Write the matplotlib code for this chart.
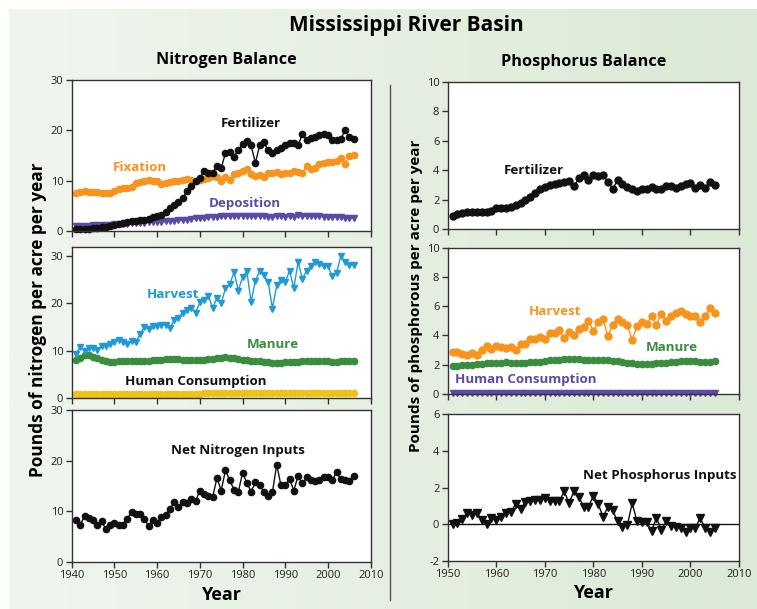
import matplotlib.pyplot as plt
import numpy as np
from matplotlib.colors import LinearSegmentedColormap

# ---- data ----
n_years = list(range(1941, 2007))
p_years = list(range(1951, 2006))

n_fertilizer = [0.3, 0.3, 0.4, 0.4, 0.5, 0.6, 0.7, 0.8, 1.0, 1.2, 1.4, 1.6, 1.8, 2.0, 2.0, 2.1, 2.2, 2.4,
                2.8, 3.0, 3.2, 3.8, 4.5, 5.2, 5.8, 6.5, 8.0, 9.0, 10.0, 10.5, 12.0, 11.5, 11.5, 13.0, 12.5,
                15.5, 15.6, 14.8, 16.0, 17.3, 17.8, 17.0, 13.5, 17.0, 17.6, 16.0, 15.5, 16.0, 16.5, 17.0,
                17.5, 17.5, 17.0, 19.3, 18.0, 18.5, 18.7, 19.0, 19.3, 19.0, 18.0, 18.0, 18.3, 20.0, 18.7, 18.3]
n_fixation = [7.5, 7.8, 7.9, 7.8, 7.8, 7.7, 7.5, 7.6, 7.5, 8.0, 8.3, 8.5, 8.6, 8.7, 9.5, 9.8, 10.0, 10.1,
              10.0, 10.0, 9.4, 9.6, 9.8, 10.0, 10.0, 10.2, 10.3, 10.1, 10.0, 10.1, 10.3, 10.5, 11.0, 10.7,
              10.0, 10.8, 10.1, 11.4, 11.5, 12.0, 12.3, 11.4, 11.0, 11.2, 10.8, 11.5, 11.6, 11.8, 11.4,
              11.6, 11.6, 12.0, 11.8, 11.5, 13.0, 12.3, 12.6, 13.3, 13.6, 13.8, 13.7, 14.0, 14.6, 13.4,
              15.0, 15.1]
n_deposition = [1.0, 1.0, 1.0, 1.0, 1.1, 1.1, 1.1, 1.2, 1.2, 1.3, 1.3, 1.4, 1.4, 1.5, 1.5, 1.6, 1.6, 1.7,
                1.7, 1.8, 1.8, 1.9, 2.0, 2.0, 2.1, 2.2, 2.2, 2.3, 2.5, 2.6, 2.6, 2.7, 2.7, 2.8, 2.9, 2.9,
                3.0, 3.0, 3.0, 3.0, 3.0, 3.0, 2.9, 3.0, 2.9, 2.8, 2.7, 2.9, 3.0, 2.8, 2.9, 2.8, 3.2, 2.9,
                2.9, 3.0, 2.9, 3.0, 2.8, 2.8, 2.7, 2.7, 2.7, 2.6, 2.6, 2.5]

n_harvest = [9.4, 10.8, 10.0, 10.5, 10.6, 10.2, 11.0, 11.0, 11.4, 11.8, 12.2, 11.8, 11.4, 12.0, 11.8,
             13.5, 15.0, 14.6, 15.2, 15.2, 15.4, 15.4, 14.7, 16.5, 17.0, 18.0, 18.5, 19.0, 18.0, 20.2,
             20.6, 21.6, 19.0, 21.2, 20.0, 23.2, 24.0, 26.6, 22.7, 25.5, 26.8, 20.3, 24.8, 26.8, 25.9,
             24.5, 18.9, 23.8, 25.0, 24.5, 26.9, 23.2, 28.7, 25.2, 26.9, 27.9, 28.8, 28.3, 27.8, 27.8,
             25.7, 26.4, 30.0, 28.8, 28.1, 28.1]
n_manure = [8.0, 8.5, 9.0, 9.0, 8.7, 8.5, 8.1, 7.8, 7.7, 7.7, 7.8, 7.9, 7.9, 7.9, 7.9, 7.9, 7.8, 7.9,
            8.0, 8.1, 8.1, 8.2, 8.2, 8.2, 8.2, 8.1, 8.0, 8.0, 8.0, 8.0, 8.1, 8.2, 8.3, 8.4, 8.5, 8.6,
            8.5, 8.4, 8.2, 8.0, 8.0, 7.9, 7.9, 7.8, 7.7, 7.6, 7.4, 7.4, 7.4, 7.5, 7.6, 7.7, 7.7, 7.8,
            7.8, 7.9, 7.9, 7.8, 7.8, 7.8, 7.7, 7.7, 7.8, 7.8, 7.9, 7.9]
n_human = [0.8, 0.8, 0.8, 0.8, 0.8, 0.8, 0.8, 0.8, 0.8, 0.8, 0.8, 0.8, 0.8, 0.8, 0.9, 0.9, 0.9, 0.9,
           0.9, 0.9, 0.9, 0.9, 0.9, 0.9, 0.9, 0.9, 0.9, 0.9, 0.9, 0.9, 1.0, 1.0, 1.0, 1.0, 1.0, 1.0,
           1.0, 1.0, 1.0, 1.0, 1.0, 1.0, 1.0, 1.0, 1.0, 1.0, 1.0, 1.0, 1.0, 1.0, 1.0, 1.1, 1.1, 1.1,
           1.1, 1.1, 1.1, 1.1, 1.1, 1.1, 1.1, 1.1, 1.1, 1.1, 1.1, 1.1]

n_net = [8.2, 7.4, 9.0, 8.6, 8.2, 7.4, 8.0, 6.5, 7.3, 7.6, 7.4, 7.4, 8.5, 9.9, 9.5, 9.5, 8.4, 7.2,
         8.2, 7.7, 8.8, 9.3, 10.5, 11.8, 10.9, 11.8, 11.6, 12.5, 12.0, 14.1, 13.4, 13.1, 12.8, 16.6,
         14.1, 18.1, 16.1, 14.3, 13.8, 17.6, 15.6, 13.9, 15.7, 15.1, 13.9, 13.1, 13.8, 19.2, 15.1,
         15.1, 16.4, 14.1, 17.0, 15.5, 16.7, 16.2, 15.9, 16.2, 16.8, 16.8, 16.2, 17.7, 16.4, 16.2,
         15.9, 16.9]

p_fertilizer = [0.9, 1.0, 1.1, 1.15, 1.15, 1.15, 1.15, 1.15, 1.2, 1.45, 1.4, 1.45, 1.5, 1.6, 1.8,
                2.0, 2.2, 2.45, 2.75, 2.85, 3.0, 3.05, 3.15, 3.2, 3.25, 2.9, 3.45, 3.7, 3.3, 3.7, 3.6,
                3.65, 3.2, 2.75, 3.3, 3.05, 2.85, 2.7, 2.6, 2.7, 2.7, 2.85, 2.75, 2.75, 2.9, 2.9, 2.8,
                2.95, 3.05, 3.1, 2.8, 3.0, 2.8, 3.2, 3.0]
p_harvest = [2.85, 2.9, 2.7, 2.65, 2.8, 2.65, 3.0, 3.3, 3.1, 3.25, 3.2, 3.15, 3.2, 3.0, 3.4, 3.45,
             3.75, 3.75, 3.9, 3.75, 4.15, 4.2, 4.35, 3.85, 4.25, 4.0, 4.45, 4.6, 5.0, 4.3, 4.9, 5.1,
             3.95, 4.75, 5.1, 4.95, 4.7, 3.7, 4.65, 4.9, 4.8, 5.3, 4.7, 5.5, 5.0, 5.35, 5.55, 5.65,
             5.5, 5.35, 5.35, 4.95, 5.3, 5.85, 5.55]
p_manure = [1.9, 1.9, 1.95, 2.0, 2.0, 2.05, 2.05, 2.1, 2.1, 2.1, 2.15, 2.2, 2.15, 2.1, 2.15, 2.15,
            2.2, 2.2, 2.2, 2.25, 2.3, 2.3, 2.35, 2.4, 2.4, 2.4, 2.4, 2.35, 2.3, 2.3, 2.3, 2.3, 2.3,
            2.25, 2.25, 2.2, 2.15, 2.1, 2.05, 2.05, 2.05, 2.05, 2.1, 2.1, 2.15, 2.2, 2.2, 2.25, 2.25,
            2.25, 2.25, 2.2, 2.2, 2.2, 2.25]
p_human = [0.05] * 55
p_net = [0.0, 0.05, 0.3, 0.6, 0.5, 0.6, 0.25, 0.0, 0.35, 0.25, 0.4, 0.6, 0.65, 1.1, 0.85, 1.2, 1.25,
         1.3, 1.3, 1.45, 1.25, 1.25, 1.25, 1.8, 1.15, 1.8, 1.5, 0.95, 0.95, 1.55, 1.1, 0.4, 0.95, 0.75,
         0.15, -0.15, -0.05, 1.15, 0.15, 0.1, 0.1, -0.35, 0.35, -0.3, 0.15, -0.1, -0.15, -0.2, -0.4,
         -0.2, -0.2, 0.35, -0.2, -0.4, -0.2]

BLACK = '#111111'
ORANGE = '#f7941d'
PURPLE = '#5b4ba6'
BLUE = '#1f9ad6'
GREEN = '#3a8c3f'
YELLOW = '#efc21a'

plt.rcParams['font.family'] = ['Open Sans', 'DejaVu Sans']
plt.rcParams['axes.unicode_minus'] = False

fig = plt.figure(figsize=(7.57, 6.09), dpi=100)
fig.patch.set_facecolor('white')

# green gradient background panel
bg = fig.add_axes([9 / 757, 0, 1 - 9 / 757, 1 - 9 / 609], zorder=-10)
grad = np.linspace(0, 1, 256).reshape(1, -1)
cmap = LinearSegmentedColormap.from_list('g', ['#f0f6ee', '#dbe9d6'])
bg.imshow(grad, aspect='auto', cmap=cmap, extent=[0, 1, 0, 1])
bg.set_axis_off()

# divider line between the two halves
fig.add_artist(plt.Line2D([390 / 757, 390 / 757], [1 - 85 / 609, 1 - 600 / 609],
                          color='#555555', lw=1))


def make_ax(rect, ylim, yticks, xlim, xticks, show_xlabels):
    ax = fig.add_axes(rect)
    ax.set_facecolor('white')
    ax.set_xlim(xlim)
    ax.set_ylim(ylim)
    ax.set_yticks(yticks)
    ax.set_xticks(xticks)
    if not show_xlabels:
        ax.set_xticklabels([])
    for s in ax.spines.values():
        s.set_color('#333333')
        s.set_linewidth(1)
    ax.tick_params(direction='out', length=4, width=1, color='#333333',
                   labelsize=8, labelcolor='#222222', pad=2)
    return ax


def series(ax, x, y, color, marker, ms=4.5):
    ax.plot(x, y, color=color, marker=marker, markersize=ms, lw=1,
            markeredgecolor=color, clip_on=False)


def label(ax, x, y, s, color):
    ax.text(x, y, s, color=color, fontsize=9.6, fontweight='bold', ha='center', va='center')


lx = [71.7 / 757, 299 / 757]
nx = (1940, 2010)
nxt = list(range(1940, 2011, 10))

ax1 = make_ax([lx[0], 1 - 231 / 609, lx[1], 151 / 609], (0, 30), [0, 10, 20, 30], nx, nxt, False)
series(ax1, n_years, n_fixation, ORANGE, 'o')
series(ax1, n_years, n_deposition, PURPLE, 'v', 4)
series(ax1, n_years, n_fertilizer, BLACK, 'o')
label(ax1, 1981.9, 21.3, 'Fertilizer', BLACK)
label(ax1, 1956.0, 12.7, 'Fixation', ORANGE)
label(ax1, 1980.6, 5.5, 'Deposition', PURPLE)

ax2 = make_ax([lx[0], 1 - 398 / 609, lx[1], 151 / 609], (0, 31.9), [0, 10, 20, 30], nx, nxt, False)
series(ax2, n_years, n_human, YELLOW, 'o')
series(ax2, n_years, n_manure, GREEN, 'o')
series(ax2, n_years, n_harvest, BLUE, 'v', 5)
label(ax2, 1963.7, 21.8, 'Harvest', BLUE)
label(ax2, 1987.0, 11.2, 'Manure', GREEN)
label(ax2, 1969.0, 3.4, 'Human Consumption', BLACK)

ax3 = make_ax([lx[0], 1 - 562 / 609, lx[1], 152 / 609], (0, 30), [0, 10, 20, 30], nx, nxt, True)
series(ax3, n_years, n_net, BLACK, 'o')
label(ax3, 1978.9, 22.1, 'Net Nitrogen Inputs', BLACK)
ax3.set_xlabel('Year', fontsize=13, fontweight='bold', labelpad=3)

rx = [447.7 / 757, 291.3 / 757]
px = (1950, 2010)
pxt = list(range(1950, 2011, 10))

ax4 = make_ax([rx[0], 1 - 229 / 609, rx[1], 147 / 609], (0, 10), [0, 2, 4, 6, 8, 10], px, pxt, False)
series(ax4, p_years, p_fertilizer, BLACK, 'o', 5)
label(ax4, 1967.7, 3.95, 'Fertilizer', BLACK)

ax5 = make_ax([rx[0], 1 - 394 / 609, rx[1], 146.3 / 609], (0, 10), [0, 2, 4, 6, 8, 10], px, pxt, False)
series(ax5, p_years, p_human, PURPLE, 'v', 4)
series(ax5, p_years, p_manure, GREEN, 'o')
series(ax5, p_years, p_harvest, ORANGE, 'o', 5)
label(ax5, 1972.2, 5.67, 'Harvest', ORANGE)
label(ax5, 1996.1, 3.16, 'Manure', GREEN)
label(ax5, 1966.0, 0.96, 'Human Consumption', PURPLE)

ax6 = make_ax([rx[0], 1 - 561 / 609, rx[1], 147 / 609], (-2, 6), [-2, 0, 2, 4, 6], px, pxt, True)
ax6.axhline(0, color=BLACK, lw=1)
series(ax6, p_years, p_net, BLACK, 'v', 5.5)
label(ax6, 1993.7, 2.63, 'Net Phosphorus Inputs', BLACK)
ax6.set_xlabel('Year', fontsize=13, fontweight='bold', labelpad=3)

fig.text(406 / 757, 1 - 25 / 609, 'Mississippi River Basin', fontsize=15, fontweight='bold',
         ha='center', va='center')
fig.text(226 / 757, 1 - 60 / 609, 'Nitrogen Balance', fontsize=11.7, fontweight='bold',
         ha='center', va='center')
fig.text(584 / 757, 1 - 62 / 609, 'Phosphorus Balance', fontsize=11.7, fontweight='bold',
         ha='center', va='center')
fig.text(38 / 757, 1 - 320 / 609, 'Pounds of nitrogen per acre per year', fontsize=12.4,
         fontweight='bold', rotation=90, ha='center', va='center')
fig.text(416 / 757, 1 - 296 / 609, 'Pounds of phosphorous per acre per year', fontsize=11.0,
         fontweight='bold', rotation=90, ha='center', va='center')

fig.savefig('out.png', dpi=100)
